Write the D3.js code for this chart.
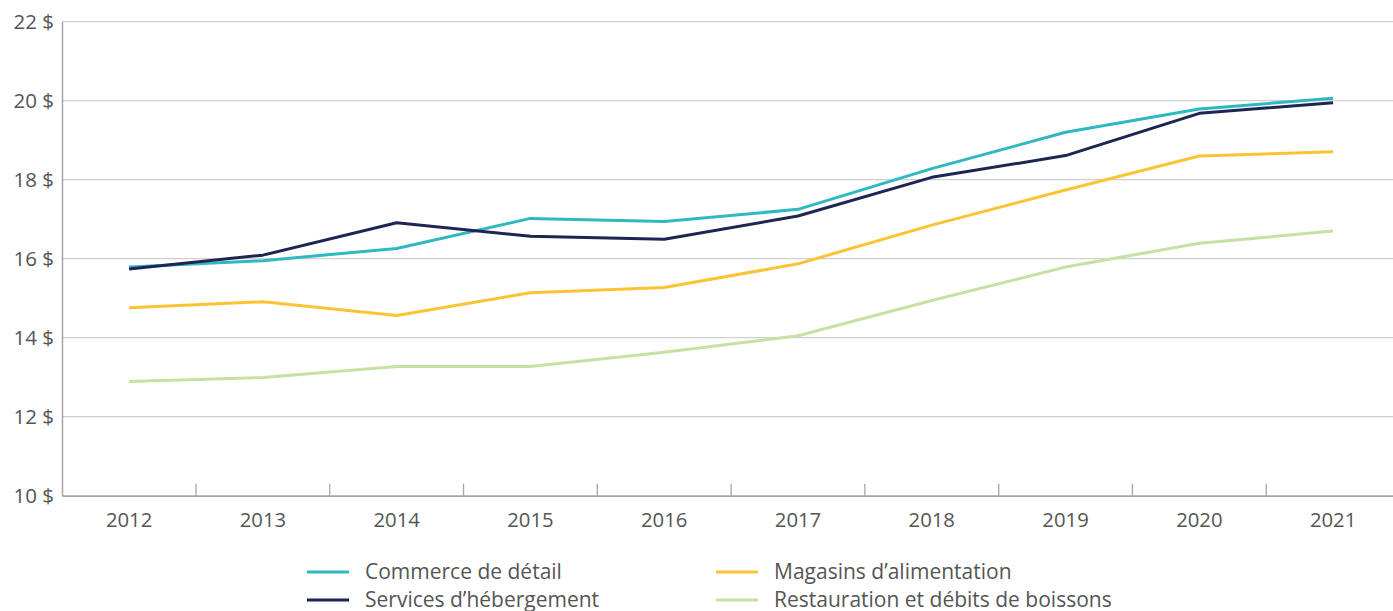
<!DOCTYPE html>
<html lang="fr">
<head>
<meta charset="utf-8">
<script src="https://cdn.jsdelivr.net/npm/d3@7"></script>
<style>
  html, body { margin: 0; padding: 0; background: #fff; }
  svg { display: block; font-family: "Open Sans", "Noto Sans", sans-serif; }
</style>
</head>
<body>
<svg id="chart" width="1393" height="611"></svg>
<script>
// Salaire horaire moyen par secteur, 2012 à 2021
const years = ["2012", "2013", "2014", "2015", "2016", "2017", "2018", "2019", "2020", "2021"];
const commerceDetail   = [15.79, 15.95, 16.26, 17.02, 16.94, 17.25, 18.28, 19.20, 19.79, 20.06];
const servicesHeberg   = [15.74, 16.09, 16.91, 16.57, 16.49, 17.08, 18.06, 18.61, 19.68, 19.95];
const magasinsAlim     = [14.76, 14.91, 14.56, 15.14, 15.27, 15.87, 16.85, 17.74, 18.60, 18.71];
const restauration     = [12.89, 12.99, 13.27, 13.27, 13.63, 14.05, 14.94, 15.79, 16.39, 16.70];
const yTicks = [10, 12, 14, 16, 18, 20, 22];
const seriesNames = ["Commerce de détail", "Services d’hébergement", "Magasins d’alimentation", "Restauration et débits de boissons"];
const seriesColors = ["#2fb8c2", "#1f2553", "#fcc332", "#c7e0a3"];

const series = [commerceDetail, servicesHeberg, magasinsAlim, restauration].map((values, i) => ({
  name: seriesNames[i], color: seriesColors[i], values
}));

const svg = d3.select("#chart");
const margin = { left: 62, top: 21.7, bottom: 495.7 };
const x = d3.scaleBand().domain(years).range([62.2, 1400]).paddingInner(0).paddingOuter(0);
const y = d3.scaleLinear().domain([10, 22]).range([margin.bottom, margin.top]);

// Horizontal gridlines
svg.append("g")
  .selectAll("line")
  .data(yTicks.filter(t => t !== 10))
  .join("line")
  .attr("x1", 62).attr("x2", 1400)
  .attr("y1", d => y(d)).attr("y2", d => y(d))
  .attr("stroke", "#cfcfcf").attr("stroke-width", 1.3);

// Y axis
const yAxis = svg.append("g")
  .attr("transform", "translate(62,0)")
  .call(d3.axisLeft(y).tickValues(yTicks).tickSize(0).tickPadding(8).tickFormat(d => d + " $"));
yAxis.select(".domain").attr("stroke", "#a6a6a6").attr("stroke-width", 1.5);
yAxis.selectAll("text").attr("font-size", 20.5).attr("fill", "#555").attr("font-family", "'Open Sans', sans-serif");

// X axis
const xAxis = svg.append("g")
  .attr("transform", `translate(0,${margin.bottom})`)
  .call(d3.axisBottom(x).tickSize(0).tickPadding(17));
xAxis.select(".domain").attr("stroke", "#a6a6a6").attr("stroke-width", 1.8);
xAxis.selectAll("text").attr("font-size", 20.3).attr("fill", "#555").attr("font-family", "'Open Sans', sans-serif");

// Category boundary ticks, pointing up into the plot
svg.append("g")
  .selectAll("line")
  .data(years.slice(1))
  .join("line")
  .attr("x1", d => x(d)).attr("x2", d => x(d))
  .attr("y1", margin.bottom).attr("y2", margin.bottom - 12)
  .attr("stroke", "#a6a6a6").attr("stroke-width", 1.3);

// Lines
const line = d3.line()
  .x((d, i) => x(years[i]) + x.bandwidth() / 2)
  .y(d => y(d));

svg.append("g")
  .selectAll("path")
  .data(series)
  .join("path")
  .attr("d", d => line(d.values))
  .attr("fill", "none")
  .attr("stroke", d => d.color)
  .attr("stroke-width", 3)
  .attr("stroke-linejoin", "round");

// Legend
const legendPos = [
  { lx: 307, ly: 572 },
  { lx: 307, ly: 600 },
  { lx: 716, ly: 572 },
  { lx: 716, ly: 600 }
];
const legend = svg.append("g")
  .selectAll("g")
  .data(series)
  .join("g")
  .attr("transform", (d, i) => `translate(${legendPos[i].lx},${legendPos[i].ly})`);
legend.append("line")
  .attr("x1", 0).attr("x2", 42)
  .attr("stroke", d => d.color).attr("stroke-width", 3);
legend.append("text")
  .attr("x", 58).attr("dy", "0.35em")
  .attr("font-size", 21).attr("fill", "#555")
  .text(d => d.name);
</script>
</body>
</html>
